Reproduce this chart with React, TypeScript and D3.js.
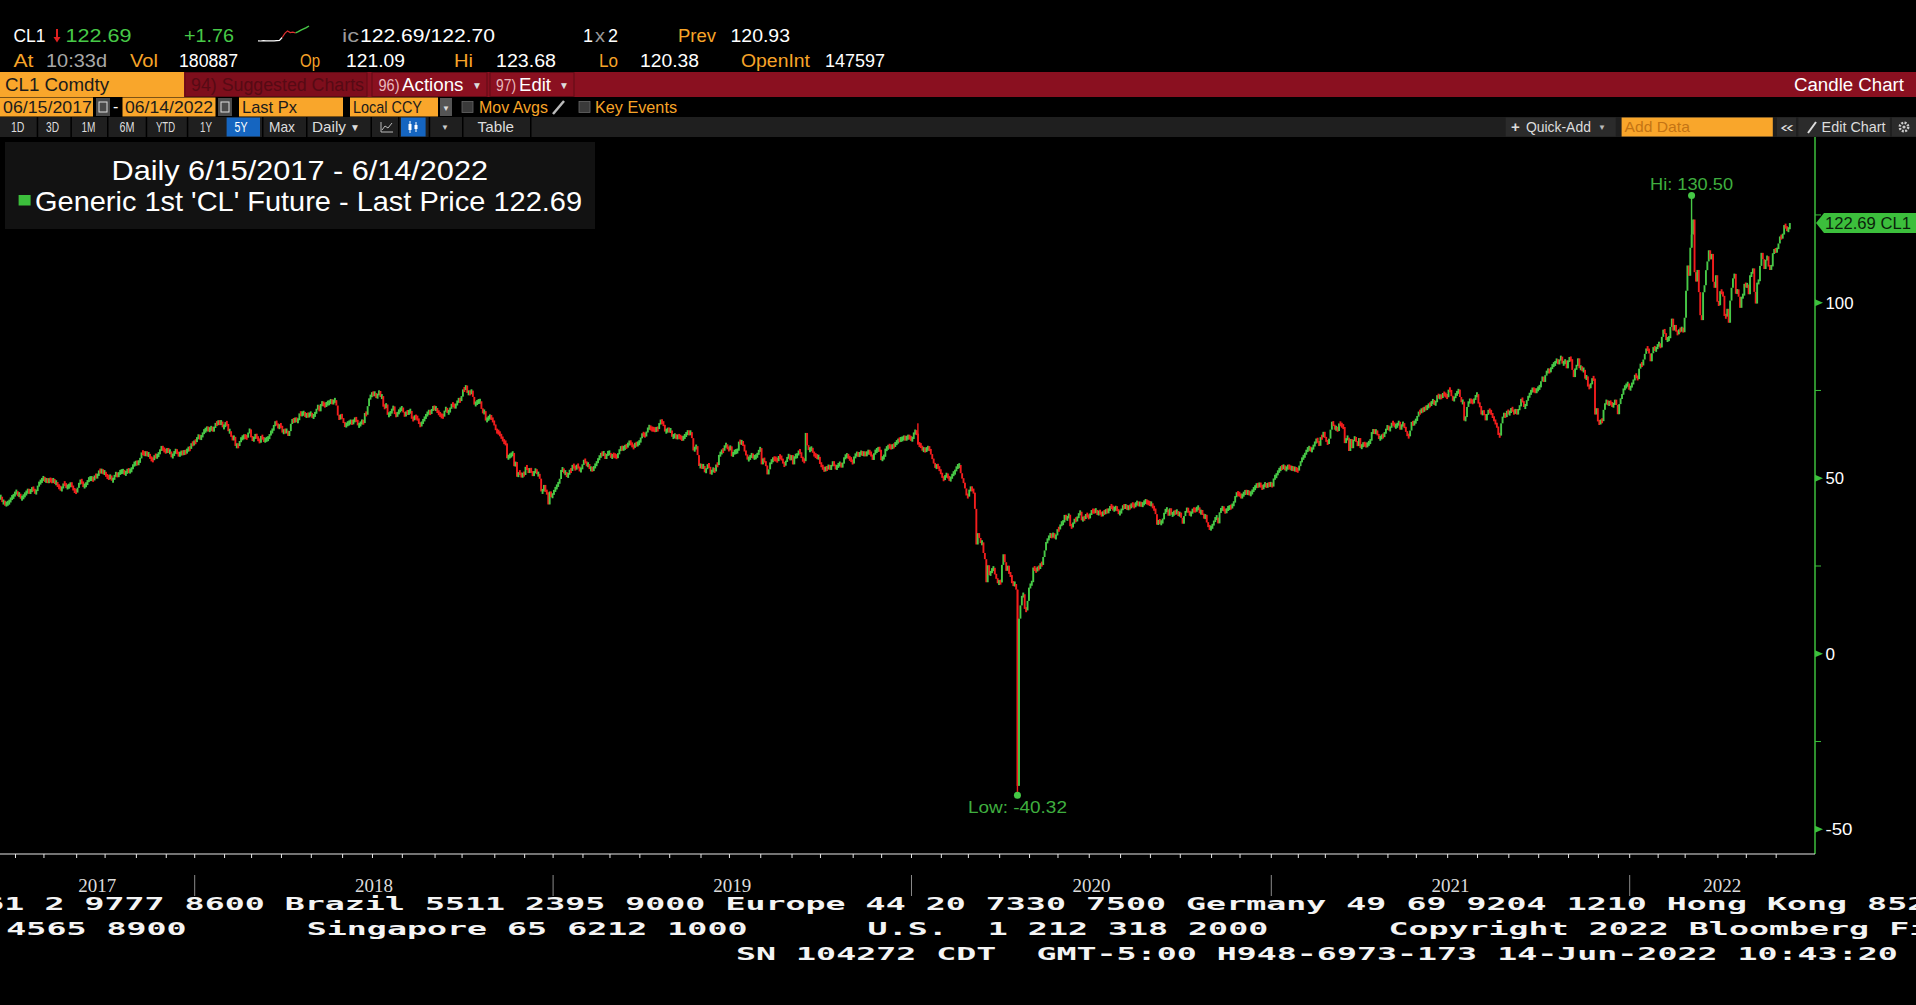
import React from "react";
import * as d3 from "d3";

// ---------- DATA (daily closes, grouped by month) ----------
const CLOSE_2017: number[][] = [
  [44.46,44.74,43.20,43.23,42.53,42.74,43.01,43.38,44.24,44.74,44.93,46.04],
  [46.07,45.13,45.52,44.23,44.40,45.04,45.49,46.08,46.54,46.02,46.40,47.12,46.79,45.77,46.34,47.89,48.75,49.04,49.71,50.17],
  [49.16,49.59,49.03,49.58,49.39,49.17,49.56,48.59,48.82,47.59,47.55,46.78,47.09,48.51,48.41,47.37,47.64,47.83,48.43,47.87,46.57,46.44,45.96],
  [47.29,48.66,49.16,49.09,47.48,48.07,48.23,49.30,49.89,49.89,49.91,49.48,50.69,50.55,50.66,52.22,51.88,52.14,51.56,51.67],
  [50.58,50.42,49.98,50.79,49.29,49.58,50.92,51.30,50.60,51.45,51.87,51.88,52.04,51.29,51.47,52.47,51.90,52.18,52.64,53.90,54.15,54.38],
  [54.30,54.54,55.64,57.35,57.20,56.81,57.17,56.74,56.76,55.70,55.33,55.14,56.55,56.09,56.42,57.02,58.02,58.95,58.11,57.99,57.40],
  [58.36,57.47,57.62,55.96,56.69,57.36,57.99,57.14,56.60,57.04,57.30,57.16,57.46,57.36,58.09,58.47,58.36,59.97,59.64,60.42],
];
const CLOSE_2018: number[][] = [
  [60.37,61.63,61.98,61.44,61.73,62.96,63.57,63.80,64.30,63.73,63.95,64.47,63.49,64.47,65.61,65.51,66.14,65.56,66.14,64.50,64.73],
  [65.80,65.45,63.39,63.39,61.79,61.15,61.79,59.20,59.29,59.19,60.60,61.34,61.68,61.90,61.79,61.55,63.01,63.91,61.64],
  [60.99,61.25,62.57,61.36,61.15,60.12,62.04,61.36,60.71,60.96,61.19,61.36,62.34,63.40,63.54,65.17,65.88,65.55,64.25,65.12,64.94],
  [63.01,63.51,63.37,63.54,62.06,63.42,65.51,66.82,66.07,67.07,66.22,66.52,68.47,68.29,68.38,68.64,67.70,68.05,67.93,68.10,68.57],
  [67.25,67.93,68.43,69.72,70.73,69.06,71.14,71.36,70.96,70.70,71.31,71.49,71.49,72.24,71.28,72.13,72.24,70.71,67.88,66.73,68.21,67.04],
  [65.81,64.75,65.52,65.52,65.95,66.10,65.74,66.36,66.89,66.64,65.06,65.07,65.85,66.22,65.71,68.58,68.08,70.53,72.76,73.45,74.15],
  [73.94,74.14,72.94,73.80,74.85,73.11,73.40,70.38,70.33,71.01,68.06,68.08,68.76,69.46,70.46,68.26,67.89,68.52,69.30,69.61,70.13],
  [68.76,67.66,68.96,68.49,69.01,69.17,66.94,66.81,67.63,67.20,67.04,65.46,65.01,65.91,66.43,67.35,67.86,68.72,68.87,68.53,69.51,70.25,69.80],
  [69.87,68.72,68.59,67.77,67.75,67.54,69.25,70.05,68.59,68.99,69.85,71.12,70.80,70.32,70.78,72.08,72.28,72.12,73.25],
  [75.30,75.23,76.41,74.33,74.34,74.29,74.96,73.17,70.97,71.34,71.78,71.92,71.92,69.75,68.65,69.12,66.43,66.82,67.33,67.59,67.04,66.18,65.31],
  [63.69,63.14,63.10,62.21,61.67,60.67,60.19,59.93,55.69,56.25,56.46,56.76,57.20,53.43,54.63,50.42,51.63,51.56,50.29,51.45,50.93],
  [53.25,52.89,51.49,52.89,51.61,51.00,51.65,52.58,51.15,51.20,49.88,46.24,46.24,48.09,46.09,45.99,42.53,46.22,44.61,45.41],
];
const CLOSE_2019: number[][] = [
  [46.54,47.09,47.96,48.52,49.78,52.36,52.59,51.59,51.59,50.51,51.11,52.31,52.07,53.80,53.13,52.62,53.69,53.31,51.99,52.71,53.79],
  [55.26,54.56,53.66,54.01,52.64,52.72,52.41,53.10,53.90,54.41,55.59,56.09,56.96,56.92,57.16,55.48,56.94,57.22,57.22],
  [55.80,56.59,56.56,56.22,56.07,56.79,58.26,58.61,58.52,58.52,59.09,59.03,59.83,60.23,59.98,59.04,58.82,59.94,59.41,60.14,60.14],
  [61.59,62.58,62.46,62.10,63.08,64.40,64.61,64.05,64.00,63.89,63.76,64.05,64.00,65.70,66.30,65.89,65.21,63.30,63.50,63.91,63.60],
  [63.60,61.81,61.94,62.25,61.40,62.12,61.70,61.66,61.04,61.78,62.02,62.87,63.10,62.76,63.13,61.42,57.91,58.63,59.14,56.59,53.50,53.50],
  [53.25,53.48,51.68,52.59,53.99,53.26,51.14,52.28,52.51,51.93,53.90,53.76,56.65,57.07,57.90,57.83,59.38,59.43,58.47,58.20],
  [59.09,56.25,57.34,57.51,57.66,57.83,60.43,60.20,60.21,59.58,57.62,56.78,55.30,55.63,56.22,56.77,55.88,56.02,56.20,56.87,57.87,58.58],
  [53.95,55.66,54.69,53.63,51.09,52.54,54.50,54.93,55.59,55.51,55.43,54.87,56.34,55.93,55.59,54.17,53.64,54.93,55.78,56.71,55.10,56.60],
  [53.94,56.26,56.30,56.52,57.85,57.40,55.75,55.09,54.85,62.90,59.34,58.11,58.13,58.64,57.29,56.49,56.41,55.91,56.09,54.07],
  [53.62,52.64,52.45,52.81,52.75,53.63,52.59,53.55,54.70,53.59,52.81,53.36,53.93,54.16,53.31,54.16,55.97,56.23,56.66,55.81,55.54,55.06,54.18],
  [56.20,56.54,57.23,56.35,57.15,57.24,56.86,57.05,56.80,57.12,57.72,57.05,56.74,55.21,57.11,57.77,58.01,58.41,58.11,55.17],
  [55.96,56.10,58.43,58.43,59.20,59.02,58.76,59.24,59.18,60.07,60.21,60.94,60.93,61.18,61.22,61.72,61.11,61.68,61.72,61.68,61.06],
];
const CLOSE_2020: number[][] = [
  [61.18,63.05,63.27,62.70,59.61,59.56,59.04,58.08,58.23,57.81,58.52,58.54,58.34,56.74,55.59,54.19,53.14,53.48,53.33,52.14,51.56],
  [50.11,49.61,50.75,50.95,50.32,49.57,49.94,51.17,51.42,52.05,53.29,53.38,53.78,51.43,49.90,48.73,47.09,45.09,44.76],
  [46.75,47.18,46.78,45.90,41.28,31.13,34.36,32.98,31.50,31.73,28.70,26.95,20.37,25.22,22.43,23.36,24.01,24.49,22.60,21.51,20.09,20.48],
  [20.31,25.32,28.34,26.08,23.63,25.09,22.76,22.41,20.11,19.87,19.87,18.27,-37.63,10.01,13.78,16.50,16.94,12.78,12.34,15.06,18.84],
  [19.78,20.39,24.56,23.99,23.55,24.74,24.14,25.78,25.29,27.56,29.43,31.82,32.50,33.49,33.92,33.25,34.35,32.81,33.71,35.49],
  [35.44,36.81,37.29,37.41,39.55,38.19,38.94,39.60,36.34,36.26,37.12,38.38,37.96,38.84,39.83,40.46,38.01,38.72,38.49,39.70,39.27,38.72],
  [39.82,40.65,40.63,40.62,40.90,39.62,40.55,40.10,39.43,40.29,40.20,40.75,40.59,40.83,41.96,41.92,41.07,41.29,41.60,41.04,39.92,40.27],
  [41.01,42.19,41.70,42.19,41.22,41.94,41.61,42.67,42.24,42.01,42.89,42.93,42.46,42.82,42.34,42.62,43.35,43.39,43.04,42.97,42.61],
  [42.76,41.51,41.37,39.77,36.76,38.05,37.30,37.33,38.28,40.16,40.97,41.11,39.31,41.44,39.60,39.80,40.31,40.25,40.60,39.29,40.22],
  [38.72,37.05,39.22,40.67,41.19,40.60,39.43,40.20,41.04,40.96,40.88,41.46,41.70,40.03,40.64,39.85,38.56,39.57,37.39,36.17,35.79,35.79],
  [36.81,37.66,38.79,38.79,37.14,40.29,41.36,41.45,41.12,40.13,41.34,41.43,41.82,41.74,42.42,43.06,44.91,45.71,45.53,45.34],
  [44.55,45.28,45.64,46.26,45.76,46.08,45.52,45.60,46.57,46.99,47.62,48.12,47.82,48.36,47.74,47.02,48.12,48.23,47.62,48.40,48.00,48.52],
];
const CLOSE_2021: number[][] = [
  [47.62,49.93,50.63,50.83,52.24,52.25,53.21,52.91,53.57,52.36,52.98,53.31,53.13,52.77,52.85,52.61,52.61,52.34,52.20],
  [53.55,54.76,55.69,56.23,56.85,57.97,58.36,58.68,57.93,58.24,59.47,60.05,61.14,60.52,59.24,61.70,61.67,63.22,61.50],
  [60.64,59.75,61.28,63.83,66.09,65.05,64.01,64.44,63.44,65.61,65.39,64.80,64.60,60.00,61.42,61.55,57.76,61.18,58.56,60.97,61.56,60.55,59.16],
  [61.45,58.65,59.33,59.77,59.60,59.32,59.70,60.18,60.70,63.15,63.46,63.13,63.38,62.44,61.35,61.43,62.14,61.91,62.94,63.86,65.01],
  [63.58,64.49,65.69,65.63,64.71,64.90,65.28,66.08,63.82,65.37,65.49,64.49,63.36,62.05,61.94,63.58,66.05,65.21,66.21,66.32],
  [67.72,68.83,68.81,69.62,69.23,70.05,69.96,70.29,70.91,70.88,71.64,72.12,71.04,71.64,73.66,73.06,73.30,73.08,74.05,73.91,73.47,73.06],
  [75.23,75.16,73.37,72.20,72.94,74.10,74.25,75.25,73.13,71.65,71.81,66.42,67.42,70.30,71.91,72.07,71.91,71.65,72.39,73.62,73.95],
  [71.26,70.56,68.15,69.09,68.28,66.48,68.29,69.25,69.09,68.44,67.29,66.59,65.46,64.73,62.32,62.14,65.64,67.54,68.36,67.42,69.21,68.50],
  [68.59,69.99,69.29,68.35,69.72,68.14,69.72,70.45,72.61,71.97,70.29,70.56,72.23,73.30,73.98,74.95,75.29,75.03,74.83,75.03,75.88],
  [75.88,77.62,78.93,77.43,79.35,80.52,80.64,80.44,81.31,82.28,82.44,82.96,83.87,82.50,83.76,84.65,82.66,82.81,83.57,81.31,83.57],
  [84.05,83.91,80.86,78.81,81.27,81.93,84.15,81.34,81.59,80.79,80.88,78.36,79.01,76.10,75.94,76.75,78.50,78.39,68.15,69.95,66.18],
  [65.57,66.50,66.26,69.49,71.35,72.05,70.94,71.67,71.29,70.73,70.87,72.38,70.86,68.23,71.12,72.76,73.79,75.57,75.98,76.56,76.99,75.21],
];
const CLOSE_2022: number[][] = [
  [76.08,76.99,77.85,79.46,78.90,78.23,81.22,82.64,82.12,83.82,85.43,86.96,86.90,85.55,83.31,85.60,87.35,86.61,86.82,88.15],
  [88.20,87.26,90.27,92.31,91.32,89.36,89.66,89.88,93.10,95.46,92.07,93.66,91.76,91.07,92.35,92.10,92.81,91.59,95.72],
  [103.41,110.60,107.67,115.68,119.40,123.70,108.70,106.02,109.33,103.01,96.44,95.04,102.98,104.98,109.27,111.76,114.93,112.34,113.90,105.96,104.24,107.82,100.28],
  [99.27,103.28,102.96,101.96,96.23,96.03,98.26,94.29,100.60,104.25,106.95,108.21,102.56,103.79,101.70,98.54,101.70,102.02,105.36,104.69],
  [105.17,102.41,107.81,108.26,109.77,103.09,99.76,105.71,106.13,110.49,114.20,112.40,109.59,112.21,113.23,110.29,109.77,110.33,114.09,115.07,114.67],
  [115.26,116.87,118.87,118.50,119.41,122.11,121.51,120.67,120.93,122.69],
];
const YEARS = [2017, 2018, 2019, 2020, 2021, 2022];
const FIRST_MONTH = [6, 1, 1, 1, 1, 1];
const CLOSES_BY_YEAR = [CLOSE_2017, CLOSE_2018, CLOSE_2019, CLOSE_2020, CLOSE_2021, CLOSE_2022];

// intraday extremes (year, month, trading-day position in month)
const EXTREME_AT = [[2020, 1, 4], [2020, 4, 12], [2022, 3, 4]];
const EXTREME_HIGH = [65.65, null, 130.5];
const EXTREME_LOW = [null, -40.32, null];

const Y_TICKS = [-50, -25, 0, 25, 50, 75, 100, 125];
const Y_LABELS = [-50, 0, 50, 100];
const LAST_PRICE = 122.69;

const SPARK = [120.9,120.88,120.92,120.9,120.91,120.89,120.9,120.93,120.95,121.3,121.8,122.1,121.9,121.95,121.85,122.0,122.2,122.35,122.5,122.69];

const FOOTER = [
  "Australia 61 2 9777 8600 Brazil 5511 2395 9000 Europe 44 20 7330 7500 Germany 49 69 9204 1210 Hong Kong 852 2977 6000",
  "Japan 81 3 4565 8900      Singapore 65 6212 1000      U.S.  1 212 318 2000      Copyright 2022 Bloomberg Finance L.P.",
  "SN 104272 CDT  GMT-5:00 H948-6973-173 14-Jun-2022 10:43:20",
];

// ---------- STYLE ----------
const SANS = "'Liberation Sans', Arial, sans-serif";
const MONO = "'DejaVu Sans Mono', 'Liberation Mono', monospace";
const ORANGE = "#f7a428";
const BOX_ORANGE = "#f9a62b";
const GREEN = "#47c947";
const RED = "#f21d1d";
const AXIS_GREEN = "#3cbf3c";

type TP = { x: number; y: number; w?: number; size?: number; fill?: string; family?: string; anchor?: string; weight?: string; children: React.ReactNode };
function T({ x, y, w, size = 17, fill = "#fff", family = SANS, anchor = "start", weight = "normal", children }: TP) {
  return (
    <text x={x} y={y} fontSize={size} fill={fill} fontFamily={family} textAnchor={anchor as any} fontWeight={weight}
      textLength={w} lengthAdjust={w ? "spacingAndGlyphs" : undefined} style={{ whiteSpace: "pre" }} xmlSpace="preserve">{children}</text>
  );
}

export default function App() {
  type Bar = { i: number; year: number; month: number; pos: number; open: number; close: number; high: number; low: number };
  const bars: Bar[] = [];
  const monthStarts: number[] = [];
  const yearStarts: { year: number; idx: number }[] = [];
  YEARS.forEach((yr, yi) => {
    yearStarts.push({ year: yr, idx: bars.length });
    CLOSES_BY_YEAR[yi].forEach((arr, mi) => {
      const month = FIRST_MONTH[yi] + mi;
      monthStarts.push(bars.length);
      arr.forEach((c, p) => {
        const prev = bars.length ? bars[bars.length - 1].close : c;
        let high = Math.max(prev, c), low = Math.min(prev, c);
        EXTREME_AT.forEach((e, k) => {
          if (e[0] === yr && e[1] === month && e[2] === p) {
            if (EXTREME_HIGH[k] != null) high = Math.max(high, EXTREME_HIGH[k] as number);
            if (EXTREME_LOW[k] != null) low = Math.min(low, EXTREME_LOW[k] as number);
          }
        });
        bars.push({ i: bars.length, year: yr, month, pos: p, open: prev, close: c, high, low });
      });
    });
  });
  const i2018 = yearStarts[1].idx;
  const i2022 = yearStarts[5].idx;
  const x = d3.scaleLinear().domain([i2018, i2022]).range([194.7, 1629.7]);
  const y = d3.scaleLinear().domain([-50, 100]).range([829.3, 302.7]);
  const step = x(1) - x(0);
  const AXIS_X = 1815;
  const AXIS_Y = 854;

  const hiBar = bars.reduce((a, b) => (b.high > a.high ? b : a));
  const loBar = bars.reduce((a, b) => (b.low < a.low ? b : a));

  const sx = d3.scaleLinear().domain([0, SPARK.length - 1]).range([258, 309]);
  const sy = d3.scaleLinear().domain([d3.min(SPARK)!, d3.max(SPARK)!]).range([41, 26]);
  const sline = d3.line<number>().x((_, i) => sx(i)).y((d) => sy(d));
  const sp1 = SPARK.slice(0, 10), sp2 = SPARK.slice(9, 15), sp3 = SPARK.slice(14);

  const MIN_BODY = 5;

  return (
    <div style={{ position: "fixed", left: 0, top: 0, width: 1916, height: 1005, background: "#000" }}>
      <svg width={1916} height={1005} style={{ display: "block" }}>
        <rect x={0} y={0} width={1916} height={1005} fill="#000" />

        {/* header row 1 */}
        <T x={13.5} y={41.5} w={32} size={18}>CL1</T>
        <path d="M57,29 L57,40" stroke="#e02020" strokeWidth={2} />
        <path d="M53.5,37 L57,42.5 L60.5,37 Z" fill="#e02020" />
        <T x={65.5} y={41.5} w={66} size={18} fill={GREEN}>122.69</T>
        <T x={184} y={41.5} w={50} size={18} fill={GREEN}>+1.76</T>
        <path d={sline(sp1) || ""} fill="none" stroke="#fff" strokeWidth={1.2} />
        <path d={d3.line<number>().x((_, i) => sx(i + 9)).y((d) => sy(d))(sp2) || ""} fill="none" stroke="#e03030" strokeWidth={1.2} />
        <path d={d3.line<number>().x((_, i) => sx(i + 14)).y((d) => sy(d))(sp3) || ""} fill="none" stroke={GREEN} strokeWidth={1.4} />
        <T x={342} y={41.5} w={17} size={18} fill="#9a9a9a">ic</T>
        <T x={360} y={41.5} w={135} size={18}>122.69/122.70</T>
        <T x={583} y={41.5} w={10} size={18}>1</T>
        <T x={595} y={41.5} w={10} size={18} fill="#9a9a9a">x</T>
        <T x={608} y={41.5} w={10} size={18}>2</T>
        <T x={678} y={41.5} w={38} size={18} fill={ORANGE}>Prev</T>
        <T x={730.5} y={41.5} w={59.5} size={18}>120.93</T>

        {/* header row 2 */}
        <T x={13.5} y={66.5} w={20} size={18} fill={ORANGE}>At</T>
        <T x={46} y={66.5} w={61} size={18} fill="#a8a8a8">10:33d</T>
        <T x={130} y={66.5} w={28} size={18} fill={ORANGE}>Vol</T>
        <T x={179} y={66.5} w={59} size={18}>180887</T>
        <T x={300} y={66.5} w={20} size={18} fill={ORANGE}>Op</T>
        <T x={346} y={66.5} w={59} size={18}>121.09</T>
        <T x={454} y={66.5} w={19} size={18} fill={ORANGE}>Hi</T>
        <T x={496} y={66.5} w={60} size={18}>123.68</T>
        <T x={599} y={66.5} w={19} size={18} fill={ORANGE}>Lo</T>
        <T x={640} y={66.5} w={59} size={18}>120.38</T>
        <T x={741} y={66.5} w={69} size={18} fill={ORANGE}>OpenInt</T>
        <T x={825} y={66.5} w={60} size={18}>147597</T>

        {/* red band */}
        <rect x={0} y={72} width={1916} height={25} fill="#8a1020" />
        <rect x={0} y={72} width={184} height={25} fill={BOX_ORANGE} />
        <T x={5} y={90.5} w={104} size={18} fill="#1b1b1b">CL1 Comdty</T>
        <rect x={185} y={72.5} width={182} height={24} fill="#7e0e1c" stroke="#5e0b15" />
        <T x={191} y={90.5} w={173} size={18} fill="#560a14">94) Suggested Charts</T>
        <rect x={372} y={72.5} width={115} height={24} fill="#8a1020" stroke="#5e0b15" />
        <T x={378.5} y={90.5} w={21} size={16} fill="#e9b8bd">96)</T>
        <T x={402} y={90.5} w={61.5} size={18}>Actions</T>
        <T x={472} y={89} size={10} fill="#ddd">▼</T>
        <rect x={490} y={72.5} width={84} height={24} fill="#8a1020" stroke="#5e0b15" />
        <T x={496} y={90.5} w={20} size={16} fill="#e9b8bd">97)</T>
        <T x={519} y={90.5} w={32} size={18}>Edit</T>
        <T x={559} y={89} size={10} fill="#ddd">▼</T>
        <T x={1904} y={90.5} w={110} size={18} anchor="end">Candle Chart</T>

        {/* row 4 */}
        <rect x={0} y={97.5} width={93} height={19} fill={BOX_ORANGE} />
        <T x={3} y={113} w={89} size={17} fill="#1b1b1b">06/15/2017</T>
        <rect x={96} y={98} width={14} height={18} fill="#4a4a4a" />
        <rect x={99} y={102} width={8} height={10} fill="none" stroke="#ddd" strokeWidth={1} />
        <T x={113} y={112} size={16}>-</T>
        <rect x={122.5} y={97.5} width={93} height={19} fill={BOX_ORANGE} />
        <T x={125} y={113} w={88} size={17} fill="#1b1b1b">06/14/2022</T>
        <rect x={218} y={98} width={14} height={18} fill="#4a4a4a" />
        <rect x={221} y={102} width={8} height={10} fill="none" stroke="#ddd" strokeWidth={1} />
        <rect x={239} y={97.5} width={104} height={19} fill={BOX_ORANGE} />
        <T x={242} y={113} w={55} size={17} fill="#1b1b1b">Last Px</T>
        <rect x={350} y={97.5} width={88} height={19} fill={BOX_ORANGE} />
        <T x={353} y={113} w={69} size={17} fill="#1b1b1b">Local CCY</T>
        <rect x={440} y={98} width={12} height={18} fill="#555" />
        <T x={442} y={111} size={8} fill="#ddd">▼</T>
        <rect x={462} y={101.5} width={11} height={11} fill="#3a3a3a" stroke="#666" strokeWidth={0.8} />
        <T x={479} y={113} w={69} size={17} fill={ORANGE}>Mov Avgs</T>
        <path d="M553,114 L564,101" stroke="#bbb" strokeWidth={2.5} />
        <rect x={579} y={101.5} width={11} height={11} fill="#3a3a3a" stroke="#666" strokeWidth={0.8} />
        <T x={595} y={113} w={82} size={17} fill={ORANGE}>Key Events</T>

        {/* row 5 toolbar */}
        <rect x={0} y={117} width={1916} height={20} fill="#1f1f1f" />
        {[36.7, 70.4, 107, 145.7, 186.8, 262, 306, 370.5, 398, 428.7, 462, 530].map((bx) => (
          <rect key={bx} x={bx} y={117} width={1.5} height={20} fill="#000" />
        ))}
        <rect x={226.6} y={117.5} width={33.4} height={19} fill="#1565c0" />
        <rect x={401} y={117.5} width={24.6} height={19} fill="#1565c0" />
        <T x={11} y={132} w={13.5} size={15} fill="#ddd">1D</T>
        <T x={46} y={132} w={13} size={15} fill="#ddd">3D</T>
        <T x={81.5} y={132} w={14} size={15} fill="#ddd">1M</T>
        <T x={119.4} y={132} w={15} size={15} fill="#ddd">6M</T>
        <T x={156} y={132} w={19} size={15} fill="#ddd">YTD</T>
        <T x={200} y={132} w={12} size={15} fill="#ddd">1Y</T>
        <T x={234.5} y={132} w={13} size={15} fill="#fff">5Y</T>
        <T x={269} y={132} w={26} size={15} fill="#ddd">Max</T>
        <T x={312} y={132} w={34} size={15} fill="#ddd">Daily</T>
        <T x={350} y={131} size={10} fill="#ddd">▼</T>
        <path d="M381,132 L381,122 M381,132 L393,132 M382,130 L385,126 L388,128 L392,123" stroke="#bbb" strokeWidth={1} fill="none" />
        <path d="M410,121 L410,133 M416,122 L416,132" stroke="#fff" strokeWidth={1} />
        <rect x={408.5} y={124} width={3} height={6} fill="#fff" />
        <rect x={414.5} y={125} width={3} height={4} fill="#fff" />
        <T x={441} y={130} size={8} fill="#ccc">▼</T>
        <T x={477.6} y={132} w={36.4} size={15} fill="#ddd">Table</T>

        <rect x={1505.7} y={117.5} width={110} height={19} fill="#2b2b2b" />
        <T x={1511} y={132} size={15} fill="#ddd" weight="bold">+</T>
        <T x={1525.9} y={132} w={65} size={15} fill="#ddd">Quick-Add</T>
        <T x={1598} y={130} size={8} fill="#bbb">▼</T>
        <rect x={1621.6} y={117.5} width={151.2} height={19} fill={BOX_ORANGE} />
        <T x={1624.6} y={132} w={65.3} size={15} fill="#c47414">Add Data</T>
        <rect x={1777} y={117.5} width={19} height={19} fill="#2b2b2b" />
        <T x={1780} y={132} w={14} size={15} fill="#ddd">«</T>
        <rect x={1798.4} y={117.5} width={91.5} height={19} fill="#2b2b2b" />
        <path d="M1808,133 L1816,122" stroke="#ddd" strokeWidth={2} />
        <T x={1821.6} y={132} w={64} size={15} fill="#ddd">Edit Chart</T>
        <rect x={1892} y={117.5} width={24} height={19} fill="#2b2b2b" />
        <circle cx={1904} cy={127} r={4.2} fill="none" stroke="#ccc" strokeWidth={2.5} strokeDasharray="2 1.3" />
        <circle cx={1904} cy={127} r={1.6} fill="#ccc" />

        {/* legend box */}
        <rect x={5} y={142} width={590} height={87} fill="#121212" />
        <T x={111.5} y={180} w={376.5} size={28}>Daily 6/15/2017 - 6/14/2022</T>
        <rect x={18.6} y={195} width={12} height={10.5} fill={AXIS_GREEN} />
        <T x={35} y={210.7} w={547} size={28}>Generic 1st 'CL' Future - Last Price 122.69</T>

        {/* candles */}
        <g>
          {bars.map((b) => {
            const up = b.close >= b.open;
            const col = up ? GREEN : RED;
            const top = y(Math.max(b.open, b.close));
            const bot = y(Math.min(b.open, b.close));
            const raw = bot - top;
            const h = Math.max(MIN_BODY, raw);
            const bx = x(b.i);
            const hasWick = b.high > Math.max(b.open, b.close) || b.low < Math.min(b.open, b.close);
            return (
              <g key={b.i}>
                {hasWick && (
                  <rect x={bx + step / 2 - 0.7} y={y(b.high)} width={1.4} height={y(b.low) - y(b.high)} fill={col} />
                )}
                <rect x={bx - 0.1} y={top - (h - raw) / 2} width={1.9} height={h} fill={col} />
              </g>
            );
          })}
        </g>

        {/* hi / lo annotations */}
        <circle cx={x(hiBar.i) + step / 2} cy={y(hiBar.high)} r={3.5} fill="#45c845" />
        <T x={x(hiBar.i) + step / 2} y={190} w={83} size={17} fill="#3fae3f" anchor="middle">{`Hi: ${hiBar.high.toFixed(2)}`}</T>
        <circle cx={x(loBar.i) + step / 2} cy={y(loBar.low)} r={3.5} fill="#45c845" />
        <T x={x(loBar.i) + step / 2} y={813} w={99} size={17} fill="#3fae3f" anchor="middle">{`Low: ${loBar.low.toFixed(2)}`}</T>

        {/* y axis */}
        <line x1={AXIS_X} x2={AXIS_X} y1={137} y2={AXIS_Y} stroke={AXIS_GREEN} strokeWidth={1.5} />
        {Y_TICKS.map((v) => (
          <line key={v} x1={AXIS_X} x2={AXIS_X + 6} y1={y(v)} y2={y(v)} stroke={AXIS_GREEN} strokeWidth={1} />
        ))}
        {Y_LABELS.map((v) => (
          <g key={v}>
            <path d={`M${AXIS_X},${y(v) - 3.5} L${AXIS_X + 8},${y(v)} L${AXIS_X},${y(v) + 3.5} Z`} fill={AXIS_GREEN} />
            <T x={1825.5} y={y(v) + 6} size={17} w={v === -50 ? 27 : v === 100 ? 28 : v === 50 ? 18.5 : 9.5}>{String(v)}</T>
          </g>
        ))}
        <path d={`M${AXIS_X + 1},${y(LAST_PRICE)} L${AXIS_X + 9},${y(LAST_PRICE) - 10} L1916,${y(LAST_PRICE) - 10} L1916,${y(LAST_PRICE) + 10} L${AXIS_X + 9},${y(LAST_PRICE) + 10} Z`} fill={AXIS_GREEN} />
        <T x={1825} y={y(LAST_PRICE) + 6} w={86} size={17} fill="#0b1f0b">{`${LAST_PRICE.toFixed(2)} CL1`}</T>

        {/* x axis */}
        <line x1={0} x2={AXIS_X} y1={AXIS_Y} y2={AXIS_Y} stroke="#e6e6e6" strokeWidth={1.2} />
        {monthStarts.slice(1).map((mi) => (
          <line key={mi} x1={x(mi)} x2={x(mi)} y1={AXIS_Y} y2={AXIS_Y + 4} stroke="#e6e6e6" strokeWidth={1} />
        ))}
        {yearStarts.slice(1).map((ys) => (
          <line key={ys.year} x1={x(ys.idx)} x2={x(ys.idx)} y1={875} y2={896} stroke="#8a8a8a" strokeWidth={1} />
        ))}
        {yearStarts.map((ys, k) => {
          const a = k === 0 ? 0 : x(ys.idx);
          const bEnd = k === yearStarts.length - 1 ? AXIS_X : x(yearStarts[k + 1].idx);
          return (
            <T key={ys.year} x={(a + bEnd) / 2} y={891.7} w={38} size={18} anchor="middle" fill="#dcdcdc" family="'Liberation Serif', serif">{String(ys.year)}</T>
          );
        })}

        {/* footer */}
        {FOOTER.map((line, k) => (
          <T key={k} x={k === 0 ? -216 : k === 1 ? -214 : 736} y={[910, 935, 960][k]} w={line.length * 20.03} size={17} family={MONO} weight="bold" fill="#f4f4f4">
            {line}
          </T>
        ))}
      </svg>
    </div>
  );
}
